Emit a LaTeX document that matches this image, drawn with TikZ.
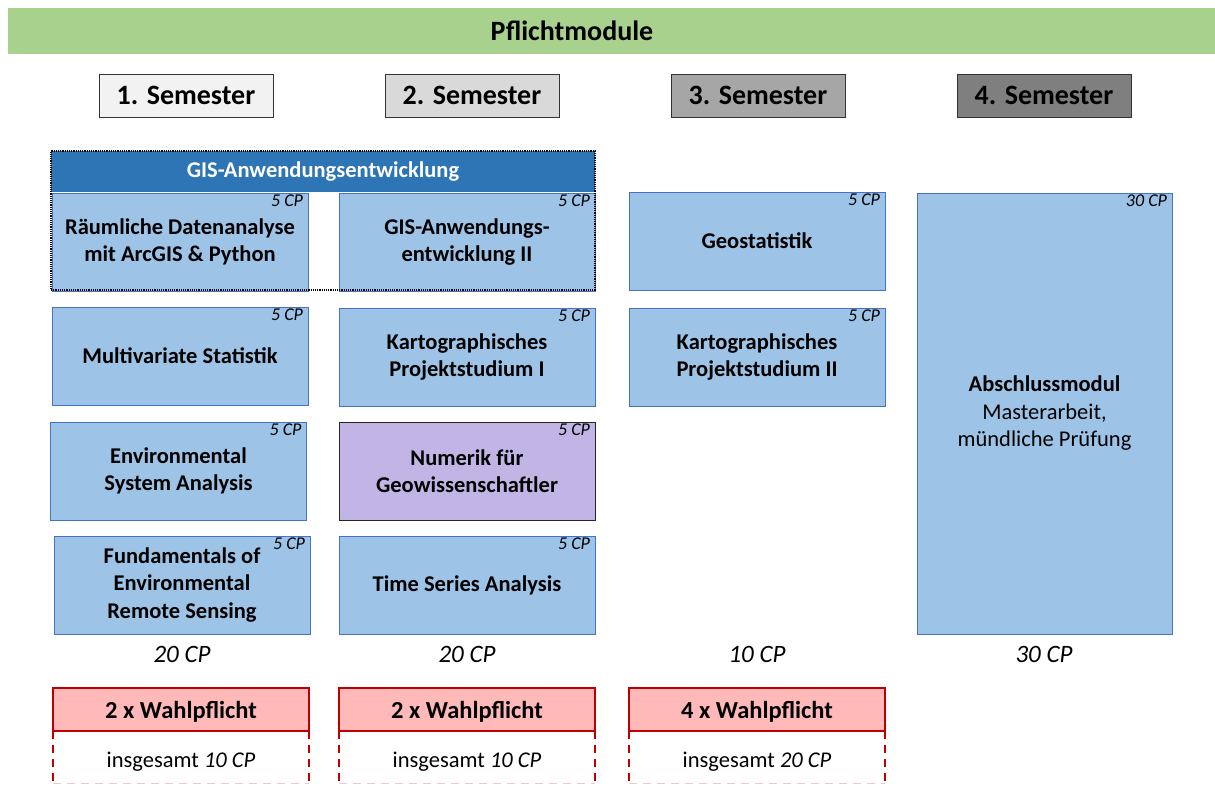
\documentclass[tikz,border=0pt]{standalone}
\usepackage{fontspec}
\setmainfont{Carlito}
\definecolor{grn}{HTML}{A9D18E}
\definecolor{semA}{HTML}{F2F2F2}
\definecolor{semB}{HTML}{D9D9D9}
\definecolor{semC}{HTML}{A6A6A6}
\definecolor{semD}{HTML}{7F7F7F}
\definecolor{hdrblue}{HTML}{2E75B6}
\definecolor{modfill}{HTML}{9DC3E6}
\definecolor{modline}{HTML}{4472C4}
\definecolor{lav}{HTML}{C3B4E6}
\definecolor{wpfill}{HTML}{FFB9B9}
\definecolor{wpline}{HTML}{C00000}
\definecolor{wpfaint}{HTML}{F4C6C6}
\tikzset{
  every node/.style={inner sep=0pt, outer sep=0pt},
  sem/.style={draw=black!80, line width=1pt, minimum width=174pt, minimum height=43pt,
    font=\fontsize{28}{32}\selectfont\bfseries},
  mod/.style={draw=modline, line width=0.8pt, fill=modfill, minimum width=256pt, minimum height=98pt,
    align=center, font=\fontsize{22.5}{27.5}\selectfont\bfseries},
  cp/.style={anchor=north east, font=\fontsize{18}{20}\selectfont\itshape},
  tot/.style={font=\fontsize{25}{28}\selectfont\itshape},
  wp/.style={draw=wpline, line width=1.6pt, fill=wpfill, minimum width=256pt, minimum height=43pt,
    text depth=0pt, font=\fontsize{24.5}{28}\selectfont\bfseries},
  ins/.style={minimum width=256pt, minimum height=52pt, text height=20pt, text depth=0pt,
    font=\fontsize{22.5}{26}\selectfont},
  dsh/.style={draw=wpline, line width=1.6pt, dash pattern=on 8pt off 6pt},
}
\begin{document}
\begin{tikzpicture}[x=1pt,y=-1pt]
\useasboundingbox (0,0) rectangle (1215,785);
\fill[white] (0,0) rectangle (1215,785);
% title bar
\node[fill=grn, minimum width=1207pt, minimum height=46pt] (bar) at (611.5,31) {};
\node[font=\fontsize{28}{32}\selectfont\bfseries] (title) at (572,31) {Pflichtmodule};
% semesters
\node[sem, fill=semA] (s1) at (186,95.5) {1. Semester};
\node[sem, fill=semB] (s2) at (472,95.5) {2. Semester};
\node[sem, fill=semC] (s3) at (758,95.5) {3. Semester};
\node[sem, fill=semD] (s4) at (1044,95.5) {4. Semester};
% GIS header
\node[fill=hdrblue, text=white, minimum width=544pt, minimum height=41pt, font=\fontsize{22.5}{27}\selectfont\bfseries] (gis) at (323,171.5) {GIS-Anwendungsentwicklung};
% column 1
\node[mod] (m11) at (180,242) {Räumliche Datenanalyse\\mit ArcGIS \& Python};
\node[mod] (m12) at (180,356) {Multivariate Statistik};
\node[mod] (m13) at (178.5,471) {Environmental\\System Analysis};
\node[mod] (m14) at (182,585) {Fundamentals of\\Environmental\\Remote Sensing};
% column 2
\node[mod] (m21) at (467,242) {GIS-Anwendungs-\\entwicklung II};
\node[mod] (m22) at (467,357) {Kartographisches\\Projektstudium I};
\node[mod, fill=lav, draw=black!85] (m23) at (467,471) {Numerik für\\Geowissenschaftler};
\node[mod] (m24) at (467,585) {Time Series Analysis};
% column 3
\node[mod] (m31) at (757,241) {Geostatistik};
\node[mod] (m32) at (757,357) {Kartographisches\\Projektstudium II};
% column 4
\node[mod, minimum width=255pt, minimum height=441pt] (m41) at (1044.5,413.5)
  {Abschlussmodul\\\mdseries Masterarbeit,\\\mdseries mündliche Prüfung};
% CP labels
\foreach \m in {m11,m12,m13,m14,m21,m22,m23,m24,m31,m32}
  \node[cp] (cp\m) at ([xshift=-5pt,yshift=-2pt]\m.north east) {5 CP};
\node[cp] (cpm41) at ([xshift=-5pt,yshift=-2pt]m41.north east) {30 CP};
% dotted group border
\node[draw=black, densely dotted, line width=1.2pt, minimum width=544pt, minimum height=139pt] (grp) at (323,220.5) {};
% totals
\node[tot] (t1) at (182,654) {20 CP};
\node[tot] (t2) at (467,654) {20 CP};
\node[tot] (t3) at (757,654) {10 CP};
\node[tot] (t4) at (1044,654) {30 CP};
% Wahlpflicht
\node[wp] (w1) at (181,709.5) {2 x Wahlpflicht};
\node[wp] (w2) at (467,709.5) {2 x Wahlpflicht};
\node[wp] (w3) at (757,709.5) {4 x Wahlpflicht};
\node[ins] (i1) at (181,757) {insgesamt \textit{10 CP}};
\node[ins] (i2) at (467,757) {insgesamt \textit{10 CP}};
\node[ins] (i3) at (757,757) {insgesamt \textit{20 CP}};
\foreach \i in {i1,i2,i3}{
  \draw[dsh] (\i.north west) -- (\i.south west);
  \draw[dsh] (\i.north east) -- (\i.south east);
  \draw[draw=wpfaint, line width=1pt, dash pattern=on 8pt off 6pt] (\i.south west) -- (\i.south east);
}
\end{tikzpicture}
\end{document}
